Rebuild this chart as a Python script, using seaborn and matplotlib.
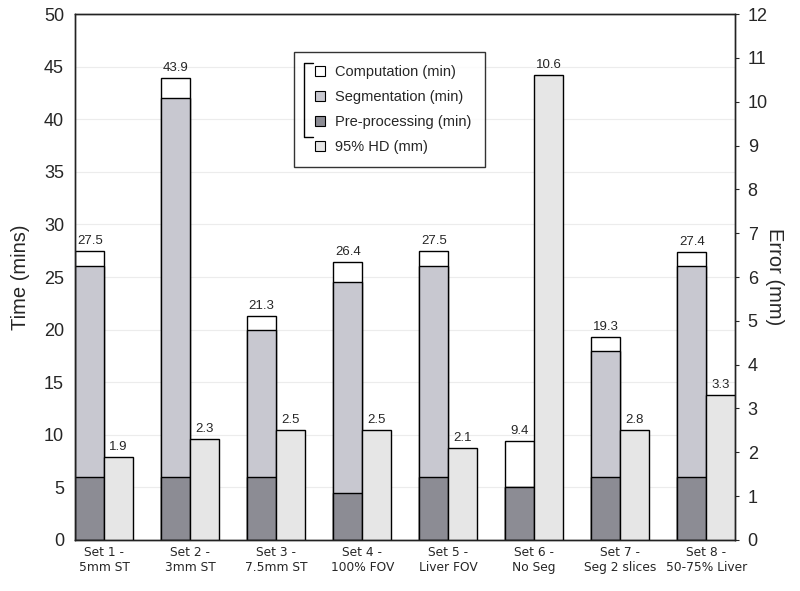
import numpy as np
import pandas as pd
import matplotlib.pyplot as plt
import seaborn as sns
from matplotlib.lines import Line2D

# data
sets = ['Set 1 -\n5mm ST', 'Set 2 -\n3mm ST', 'Set 3 -\n7.5mm ST', 'Set 4 -\n100% FOV',
        'Set 5 -\nLiver FOV', 'Set 6 -\nNo Seg', 'Set 7 -\nSeg 2 slices', 'Set 8 -\n50-75% Liver']
preproc = [6, 6, 6, 4.5, 6, 5, 6, 6]
segment = [20, 36, 14, 20, 20, 0, 12, 20]
total = [27.5, 43.9, 21.3, 26.4, 27.5, 9.4, 19.3, 27.4]
total_labels = ['27.5', '43.9', '21.3', '26.4', '27.5', '9.4', '19.3', '27.4']
# bar heights as drawn (set 7 is drawn at ~2.5 though labelled 2.8)
hd95 = [1.9, 2.3, 2.5, 2.5, 2.1, 10.6, 2.5, 3.3]
hd_labels = ['1.9', '2.3', '2.5', '2.5', '2.1', '10.6', '2.8', '3.3']

sns.set_style("white")
plt.rcParams['font.family'] = ['Liberation Sans', 'DejaVu Sans']

pos = np.arange(len(sets))
w = 0.337
df = pd.DataFrame({'pos': pos, 'total': total,
                   'segtop': np.array(preproc) + np.array(segment),
                   'preproc': preproc, 'hd': hd95})

c_comp = '#ffffff'
c_seg = '#c8c8d0'
c_pre = '#8c8c94'
c_hd = '#e6e6e6'

fig = plt.figure(figsize=(8, 5.91), dpi=100)
ax = fig.add_axes([0.094, 0.0863, 0.825, 0.89])
ax2 = ax.twinx()

kw = dict(native_scale=True, width=w, saturation=1, edgecolor='black', linewidth=1)
sns.barplot(data=df.assign(x=df.pos - w / 2), x='x', y='total', color=c_comp, ax=ax, **kw)
sns.barplot(data=df.assign(x=df.pos - w / 2), x='x', y='segtop', color=c_seg, ax=ax, **kw)
sns.barplot(data=df.assign(x=df.pos - w / 2), x='x', y='preproc', color=c_pre, ax=ax, **kw)
sns.barplot(data=df.assign(x=df.pos + w / 2), x='x', y='hd', color=c_hd, ax=ax2, **kw)

ax.bar_label(ax.containers[0], labels=total_labels, padding=3, fontsize=9.5)
ax2.bar_label(ax2.containers[0], labels=hd_labels, padding=3, fontsize=9.5)

ax.set_ylim(0, 50)
ax2.set_ylim(0, 12)
ax.set_xlim(-w, len(sets) - 1 + w)
ax.set_yticks(np.arange(0, 51, 5))
ax2.set_yticks(np.arange(0, 13, 1))
ax.yaxis.grid(True, color='#ececec', linewidth=0.8)
ax.set_axisbelow(True)
ax.set_xticks(pos)
ax.set_xticklabels(sets, fontsize=8.8, family='DejaVu Sans', linespacing=1.25)
ax.tick_params(axis='y', labelsize=13, length=0, pad=8)
ax2.tick_params(axis='y', labelsize=13, length=3, pad=6)
ax.tick_params(axis='x', length=0, pad=4)
ax.set_xlabel('')
ax2.set_xlabel('')
ax.set_ylabel('Time (mins)', fontsize=14.5, labelpad=10)
ax2.set_ylabel('Error (mm)', fontsize=14.5, rotation=270, labelpad=12)
for a in (ax, ax2):
    for s in a.spines.values():
        s.set_color('#222222')
        s.set_linewidth(1)

handles = [Line2D([], [], marker='s', linestyle='none', markersize=7, markerfacecolor=c,
                  markeredgecolor='black', markeredgewidth=0.8) for c in (c_comp, c_seg, c_pre, c_hd)]
names = ['Computation (min)', 'Segmentation (min)', 'Pre-processing (min)', '95% HD (mm)']
leg = ax2.legend(handles, names, loc='upper left', bbox_to_anchor=(0.332, 0.928), fontsize=10.5,
                 frameon=True, fancybox=False, edgecolor='black', handlelength=1.7,
                 labelspacing=0.75, borderpad=0.9, handletextpad=0.2, borderaxespad=0)
leg.get_frame().set_linewidth(1)

# bracket grouping the time components in the legend
fw, fh = 800, 591
bx = [313, 304, 304, 313]
by = [63, 63, 137, 137]
fig.add_artist(Line2D([x / fw for x in bx], [1 - y / fh for y in by], color='black', linewidth=1))

fig.savefig('out.png', dpi=100)
